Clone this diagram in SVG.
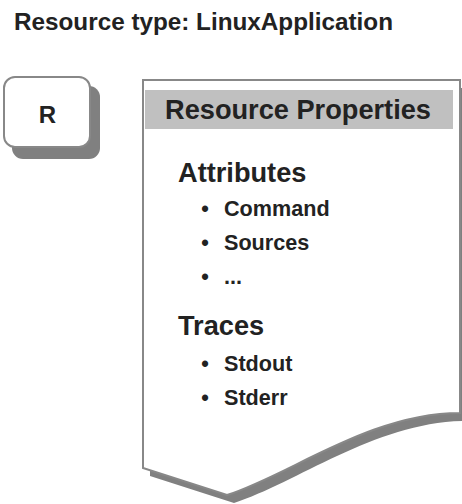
<svg xmlns="http://www.w3.org/2000/svg" width="462" height="504" viewBox="0 0 462 504">
<style>
text{font-family:"Liberation Sans",Arial,sans-serif;font-weight:bold;fill:#222}
.shadow{fill:#808080;stroke:none}
.outline{fill:#fff;stroke:#888;stroke-width:2}
.item{font-size:21.6px}
.head{font-size:27.2px}
</style>
<rect width="462" height="504" fill="#fff"/>
<text x="14" y="29.5" style="font-size:24px" textLength="379" lengthAdjust="spacingAndGlyphs">Resource type: LinuxApplication</text>
<g id="node-r">
<rect class="shadow" x="12" y="86" width="88" height="73" rx="11"/>
<rect class="outline" x="4" y="77" width="86" height="70" rx="11"/>
<text x="47.5" y="123" text-anchor="middle" style="font-size:24px">R</text>
</g>
<g id="node-props">
<path class="shadow" d="M150,88 H467 V421 C377,421 297,483 234,503 L150,476 Z"/>
<path class="outline" d="M143,80 H460 V413 C370,413 290,475 227,495 L143,468 Z"/>
<rect x="145" y="90" width="308" height="39" fill="#c0c0c0"/>
<text x="298" y="119" text-anchor="middle" class="head">Resource Properties</text>
<text x="178" y="182" class="head">Attributes</text>
<text x="205" y="216" text-anchor="middle" class="item">•</text>
<text x="224" y="216" class="item">Command</text>
<text x="205" y="250" text-anchor="middle" class="item">•</text>
<text x="224" y="250" class="item">Sources</text>
<text x="205" y="284" text-anchor="middle" class="item">•</text>
<text x="224" y="284" class="item">...</text>
<text x="178" y="335" class="head">Traces</text>
<text x="205" y="371" text-anchor="middle" class="item">•</text>
<text x="224" y="371" class="item">Stdout</text>
<text x="205" y="405" text-anchor="middle" class="item">•</text>
<text x="224" y="405" class="item">Stderr</text>
</g>
<g id="connectors"/>
</svg>
